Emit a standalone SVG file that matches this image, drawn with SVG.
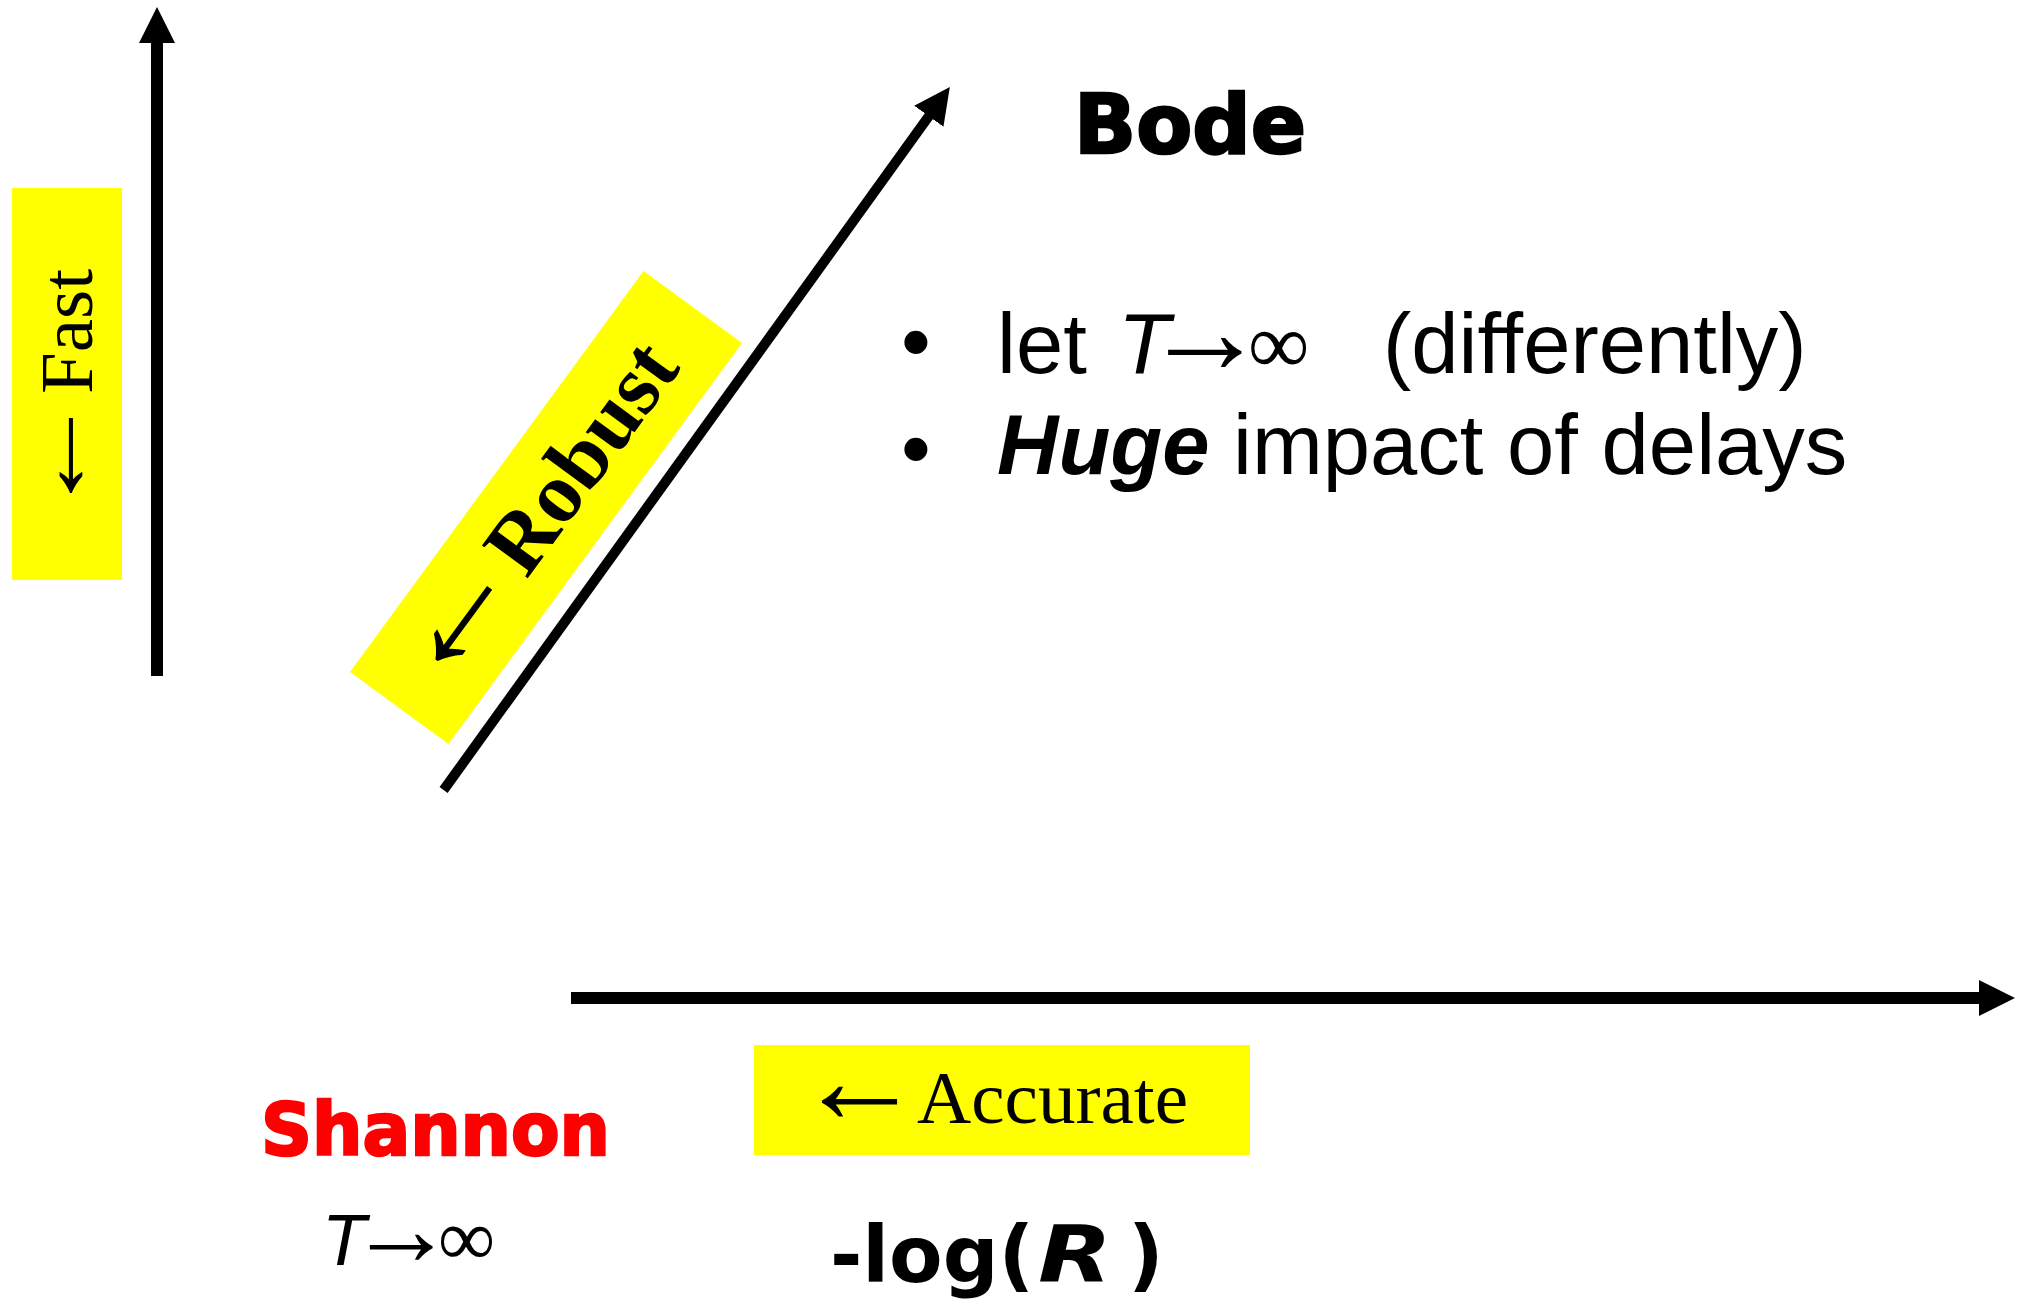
<svg xmlns="http://www.w3.org/2000/svg" width="2018" height="1303" viewBox="0 0 2018 1303">
<style>
.serif{font-family:"Liberation Serif","Times New Roman",serif}
.sans{font-family:"Liberation Sans",Arial,sans-serif}
.heavy{font-family:"DejaVu Sans",Verdana,sans-serif;font-weight:bold}
.box{fill:#ffff00}
.axis{stroke:#000;fill:none}
</style>
<defs>
<marker id="ah" markerUnits="userSpaceOnUse" viewBox="0 0 36 36" markerWidth="36" markerHeight="36" refX="1" refY="18" orient="auto"><path d="M0,0 L36,18 L0,36 z" fill="#000"/></marker>
</defs>
<rect width="2018" height="1303" fill="#fff"/>
<g id="fast-label">
<rect class="box" x="12" y="188" width="110" height="392"/>
<text class="serif" font-size="97" transform="translate(92,495) rotate(-90) scale(1.31,1)" x="-18.4" y="-5">←</text>
<text class="serif" font-size="75" transform="translate(92,495) rotate(-90)" x="101" y="0">Fast</text>
</g>
<g id="robust-label" transform="translate(546,507.5) rotate(-53.8)">
<rect class="box" x="-248.5" y="-61" width="497" height="122"/>
<text class="serif" y="27"><tspan x="-219" font-size="152">←</tspan><tspan x="-70" font-size="86" font-weight="bold">Robust</tspan></text>
</g>
<g id="accurate-label">
<rect class="box" x="754" y="1045" width="496" height="110"/>
<text class="serif" y="1123"><tspan x="796" font-size="127">←</tspan><tspan x="917" font-size="75" textLength="271" lengthAdjust="spacingAndGlyphs">Accurate</tspan></text>
</g>
<g id="connectors">
<line class="axis" x1="157" y1="676" x2="157" y2="42" stroke-width="12" marker-end="url(#ah)"/>
<line class="axis" x1="571" y1="998" x2="1980" y2="998" stroke-width="12" marker-end="url(#ah)"/>
<line class="axis" x1="443.6" y1="790" x2="929.4" y2="115.4" stroke-width="10" marker-end="url(#ah)"/>
</g>
<g id="bode">
<text class="heavy" x="1074" y="153" font-size="82" stroke="#000" stroke-width="2.5" textLength="232" lengthAdjust="spacingAndGlyphs">Bode</text>
</g>
<g id="bode-notes">
<text class="sans" font-size="85" x="901" y="371">•</text>
<text class="sans" font-size="85" y="373"><tspan x="997">let</tspan><tspan x="1118" font-style="italic">T</tspan><tspan class="serif" x="1143" font-size="124">→</tspan><tspan class="serif" x="1248" font-size="86">∞</tspan><tspan x="1383">(differently)</tspan></text>
<text class="sans" font-size="85" x="901" y="478">•</text>
<text class="sans" font-size="85" x="997" y="474"><tspan font-weight="bold" font-style="italic">Huge</tspan> impact of delays</text>
</g>
<g id="shannon">
<text class="heavy" x="261" y="1155" font-size="73" fill="#ff0000" stroke="#ff0000" stroke-width="2.5" textLength="349" lengthAdjust="spacingAndGlyphs">Shannon</text>
<text class="sans" font-size="72" y="1265"><tspan x="322" font-style="italic">T</tspan><tspan class="serif" x="348" font-size="106">→</tspan><tspan class="serif" x="438" font-size="80">∞</tspan></text>
</g>
<g id="axis-label">
<text class="heavy" x="830" y="1282" font-size="78">-log(<tspan x="1038" font-style="italic" textLength="74" lengthAdjust="spacingAndGlyphs">R</tspan><tspan x="1128">)</tspan></text>
</g>
</svg>
